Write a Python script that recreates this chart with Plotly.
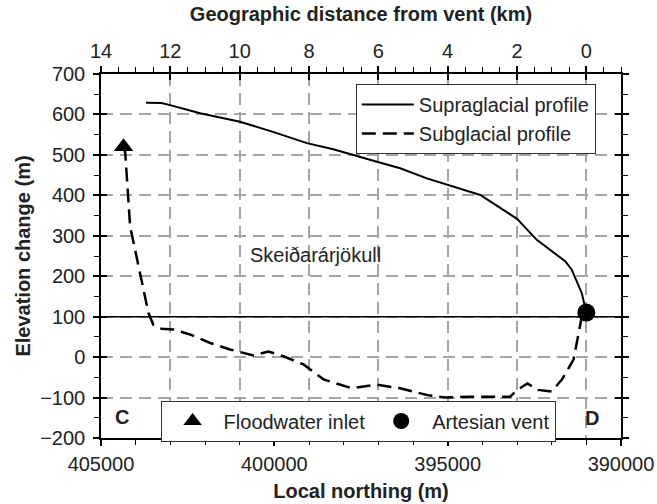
import plotly.graph_objects as go

# ---------------- data ----------------
supra_northing = [403700, 403250, 403010, 402140, 400990, 400040, 399060, 398300,
                  397040, 396370, 395600, 394840, 394060, 393000, 392430, 391610,
                  391420, 391130, 391030, 391000]
supra_elev = [629, 628, 623, 603, 582, 557, 529, 514, 483, 467, 442, 422, 401,
              342, 290, 237, 216, 158, 117, 110]

sub_northing = [404350, 404300, 404160, 403870, 403630, 403490, 403250, 402910,
                402430, 401850, 401280, 400600, 400170, 399740, 399160, 398580,
                398100, 397770, 397070, 396370, 395580, 395080, 394390, 393200,
                392990, 392700, 392400, 392000, 391700, 391370, 391220, 391130,
                391000]
sub_elev = [520, 504, 323, 208, 109, 80, 70, 68, 56, 35, 19, 4, 14, 2, -18, -55,
            -68, -77, -68, -77, -94, -100, -98, -98, -81, -65, -81, -85, -55, -6,
            60, 101, 110]

inlet_northing = [404350]
inlet_elev = [520]
vent_northing = [391000]
vent_elev = [110]

datum_elev = 100                      # solid horizontal reference line
northing_range = [405000, 390000]
dist_range = [14, -1]                 # km from vent (vent at northing 391000)
elev_range = [-200, 700]
x_ticks = [405000, 400000, 395000, 390000]
x_ticklabels = ["405000", "400000", "395000", "390000"]
dist_ticks = [14, 12, 10, 8, 6, 4, 2, 0]
elev_ticks = list(range(-200, 701, 100))

label_text = "Skeiðarárjökull"
label_pos = (398800, 253)

FONT = "Liberation Sans, Arial, sans-serif"
FS = 20
GRID = "#a4a4a4"

fig = go.Figure()

fig.add_trace(go.Scatter(x=supra_northing, y=supra_elev, mode="lines",
                         name="Supraglacial profile",
                         line=dict(color="black", width=2), legend="legend"))
fig.add_trace(go.Scatter(x=sub_northing, y=sub_elev, mode="lines",
                         name="Subglacial profile",
                         line=dict(color="black", width=2.5, dash="14px,7px"),
                         legend="legend"))
fig.add_trace(go.Scatter(x=inlet_northing, y=inlet_elev, mode="markers",
                         name="Floodwater inlet",
                         marker=dict(symbol="triangle-up", size=17, color="black"),
                         legend="legend2"))
fig.add_trace(go.Scatter(x=vent_northing, y=vent_elev, mode="markers",
                         name="Artesian vent",
                         marker=dict(symbol="circle", size=18, color="black"),
                         legend="legend2"))

# invisible carriers so the overlay axes (top distance axis, crossing ticks) render
for xa, ya, xr, yr in [("x2", "y", dist_range, elev_range),
                       ("x3", "y", northing_range, elev_range),
                       ("x4", "y", dist_range, elev_range),
                       ("x", "y2", northing_range, elev_range)]:
    fig.add_trace(go.Scatter(x=xr, y=yr, xaxis=xa, yaxis=ya, mode="markers",
                             marker=dict(opacity=0, size=1), showlegend=False,
                             hoverinfo="skip"))

fig.add_shape(type="line", xref="paper", x0=0, x1=1, yref="y",
              y0=datum_elev, y1=datum_elev, line=dict(color="black", width=1.5),
              layer="above")

common_line = dict(showline=True, linecolor="black", linewidth=1.5,
                   automargin=False)

fig.update_layout(
    width=657, height=504,
    margin=dict(l=101, r=36, t=74, b=66),
    paper_bgcolor="white", plot_bgcolor="white",
    font=dict(family=FONT, size=FS, color="#222"),
    xaxis=dict(range=northing_range, tickvals=x_ticks, ticktext=x_ticklabels,
               ticks="outside", ticklen=6, tickcolor="black", tickwidth=1.5,
               minor=dict(dtick=1000, ticks="outside", ticklen=5,
                          tickcolor="black", tickwidth=1.2, showgrid=False),
               showgrid=False, zeroline=False, ticklabelstandoff=1,
               title=dict(text="<b>Local northing (m)</b>", standoff=10,
                          font=dict(size=FS)),
               **common_line),
    xaxis2=dict(range=dist_range, overlaying="x", side="top", anchor="y",
                tickvals=dist_ticks, ticks="outside", ticklen=6,
                tickcolor="black", tickwidth=1.5,
                minor=dict(dtick=0.5, tick0=0, ticks="outside", ticklen=5,
                           tickcolor="black", tickwidth=1.2, showgrid=False),
                showgrid=True, gridcolor=GRID, gridwidth=1.5, griddash="12px,7px",
                zeroline=False, ticklabelstandoff=0,
                title=dict(text="<b>Geographic distance from vent (km)</b>",
                           standoff=13, font=dict(size=FS)),
                **common_line),
    xaxis3=dict(range=northing_range, overlaying="x", side="bottom", anchor="y",
                tickvals=x_ticks, ticks="inside", ticklen=6, tickcolor="black",
                tickwidth=1.5, showticklabels=False, showgrid=False,
                zeroline=False, showline=False, automargin=False),
    xaxis4=dict(range=dist_range, overlaying="x", side="top", anchor="y",
                tickvals=dist_ticks, ticks="inside", ticklen=6, tickcolor="black",
                tickwidth=1.5, showticklabels=False, showgrid=False,
                zeroline=False, showline=False, automargin=False),
    yaxis=dict(range=elev_range, tickvals=elev_ticks, ticks="outside", ticklen=6,
               tickcolor="black", tickwidth=1.5, mirror="ticks",
               minor=dict(dtick=50, tick0=0, ticks="outside", ticklen=5,
                          tickcolor="black", tickwidth=1.2, showgrid=False),
               showgrid=True, gridcolor=GRID, gridwidth=1.5, griddash="12px,7px",
               zeroline=False, ticklabelstandoff=4,
               title=dict(text="<b>Elevation change (m)</b>", standoff=4,
                          font=dict(size=FS)),
               **common_line),
    yaxis2=dict(range=elev_range, overlaying="y", side="left", anchor="x",
                tickvals=elev_ticks, ticks="inside", ticklen=6, tickcolor="black",
                tickwidth=1.5, mirror="ticks", showticklabels=False,
                showgrid=False, zeroline=False, showline=False, automargin=False),
    legend=dict(x=0.49, y=0.9725, xanchor="left", yanchor="top",
                bgcolor="white", bordercolor="#333", borderwidth=1,
                font=dict(size=FS), tracegroupgap=0, itemwidth=52),
    legend2=dict(x=0.1146, y=0.103, xanchor="left", yanchor="top",
                 orientation="h", bgcolor="white", bordercolor="#333",
                 borderwidth=1, font=dict(size=FS), itemwidth=52),
    showlegend=True,
)

fig.add_annotation(x=label_pos[0], y=label_pos[1], xref="x", yref="y",
                   text=label_text, showarrow=False, font=dict(size=FS))
fig.add_annotation(x=0.0398, y=0.0585, xref="paper", yref="paper",
                   xanchor="center", yanchor="middle",
                   text="<b>C</b>", showarrow=False, font=dict(size=FS))
fig.add_annotation(x=0.945, y=0.054, xref="paper", yref="paper",
                   xanchor="center", yanchor="middle",
                   text="<b>D</b>", showarrow=False, font=dict(size=FS))

fig.write_html("out.html",
               config={"displayModeBar": False},
               post_script="document.body.style.margin='0px';"
                           "document.body.style.overflow='hidden';")
